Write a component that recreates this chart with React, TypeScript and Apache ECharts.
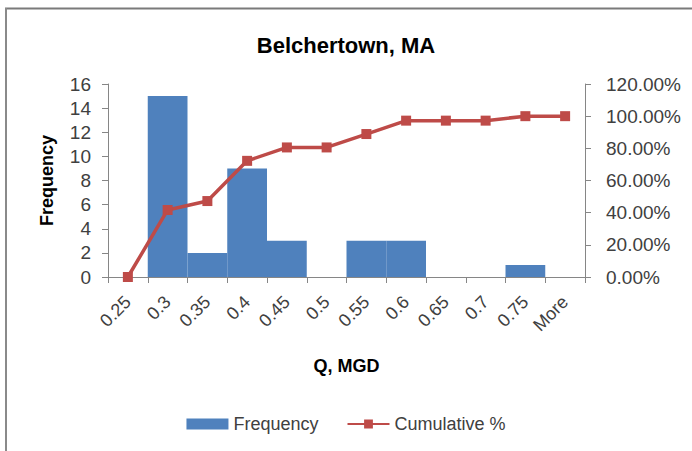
import React, { useEffect, useRef } from "react";
import * as echarts from "echarts";

const categories = ["0.25", "0.3", "0.35", "0.4", "0.45", "0.5", "0.55", "0.6", "0.65", "0.7", "0.75", "More"];
const frequency = [0, 15, 2, 9, 3, 0, 3, 3, 0, 0, 1, 0];
const cumulativePct = [0, 0.4167, 0.4722, 0.7222, 0.8056, 0.8056, 0.8889, 0.9722, 0.9722, 0.9722, 1.0, 1.0];

const FONT = "'Liberation Sans', Arial, sans-serif";
const AXIS_GRAY = "#868686";
const LABEL = "#404040";

export default function App() {
  const ref = useRef<HTMLDivElement>(null);

  useEffect(() => {
    if (!ref.current) return;
    const chart = echarts.init(ref.current, undefined, { renderer: "svg" });
    chart.setOption({
      animation: false,
      backgroundColor: "#ffffff",
      textStyle: { fontFamily: FONT },
      title: {
        text: "Belchertown, MA",
        left: "center",
        top: 29,
        textStyle: { fontFamily: FONT, fontSize: 22, fontWeight: "bold", color: "#000" },
      },
      grid: { left: 108, right: 107, top: 84, bottom: 174 },
      legend: {
        bottom: 13,
        left: "center",
        itemWidth: 42,
        itemHeight: 11,
        itemGap: 28,
        textStyle: { fontFamily: FONT, fontSize: 18, color: LABEL },
        data: [
          { name: "Frequency", icon: "rect" },
          { name: "Cumulative %" },
        ],
      },
      xAxis: {
        type: "category",
        data: categories,
        name: "Q, MGD",
        nameLocation: "middle",
        nameGap: 80,
        nameTextStyle: { fontFamily: FONT, fontSize: 18, fontWeight: "bold", color: "#000" },
        axisLine: { lineStyle: { color: AXIS_GRAY, width: 1 } },
        axisTick: { show: true, length: 6, lineStyle: { color: AXIS_GRAY } },
        axisLabel: { rotate: 45, fontSize: 18, color: LABEL, margin: 22, interval: 0 },
      },
      yAxis: [
        {
          type: "value",
          min: 0,
          max: 16,
          interval: 2,
          name: "Frequency",
          nameLocation: "middle",
          nameGap: 52,
          nameRotate: 90,
          nameTextStyle: { fontFamily: FONT, fontSize: 18, fontWeight: "bold", color: "#000" },
          axisLine: { show: true, lineStyle: { color: AXIS_GRAY } },
          axisTick: { show: true, length: 6, lineStyle: { color: AXIS_GRAY } },
          axisLabel: { fontSize: 19, color: LABEL, margin: 17 },
          splitLine: { show: false },
        },
        {
          type: "value",
          min: 0,
          max: 1.2,
          interval: 0.2,
          position: "right",
          axisLine: { show: true, lineStyle: { color: AXIS_GRAY } },
          axisTick: { show: true, length: 6, lineStyle: { color: AXIS_GRAY } },
          axisLabel: {
            fontSize: 19,
            color: LABEL,
            margin: 21,
            formatter: (v: number) => (v * 100).toFixed(2) + "%",
          },
          splitLine: { show: false },
        },
      ],
      series: [
        {
          name: "Frequency",
          type: "bar",
          data: frequency,
          barWidth: "100%",
          barCategoryGap: "0%",
          itemStyle: { color: "#4F81BD" },
        },
        {
          name: "Cumulative %",
          type: "line",
          yAxisIndex: 1,
          data: cumulativePct,
          symbol: "rect",
          symbolSize: 10,
          lineStyle: { color: "#BE4B48", width: 3.5 },
          itemStyle: { color: "#BE4B48" },
        },
      ],
      graphic: [
        {
          type: "line",
          shape: { x1: 5, y1: 8.5, x2: 692, y2: 8.5 },
          style: { stroke: "#7a7a7a", lineWidth: 2 },
        },
        {
          type: "line",
          shape: { x1: 6, y1: 8, x2: 6, y2: 451 },
          style: { stroke: "#8a8a8a", lineWidth: 2 },
        },
      ],
    });
    return () => chart.dispose();
  }, []);

  return (
    <div
      ref={ref}
      style={{ position: "absolute", left: 0, top: 0, width: 692, height: 451 }}
    />
  );
}
